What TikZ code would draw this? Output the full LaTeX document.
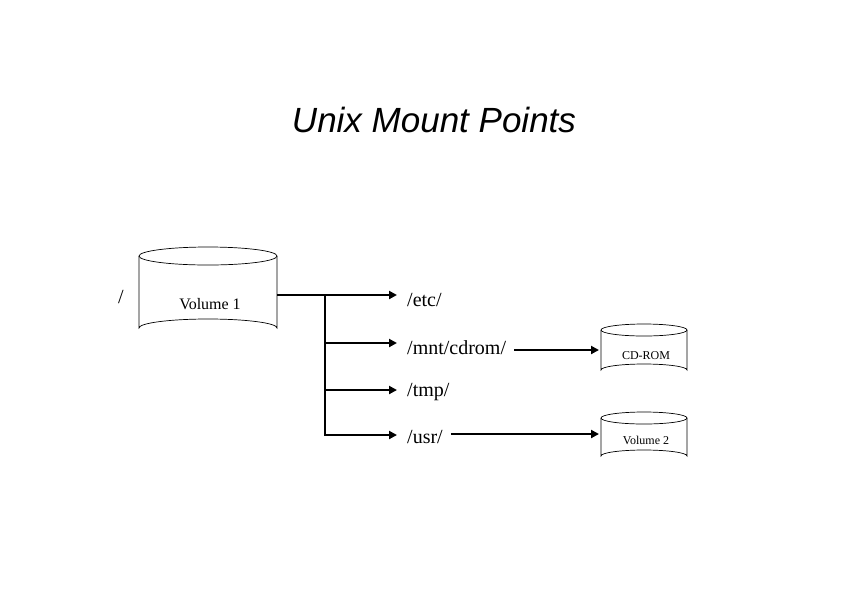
\documentclass[tikz,border=0pt]{standalone}
\usepackage{fontspec}
\setmainfont{Liberation Serif}
\newfontfamily\arial{Liberation Sans}
\usetikzlibrary{arrows.meta}
\begin{document}
\begin{tikzpicture}[x=1pt,y=-1pt,
  conn/.style={line width=2.5pt},
  arr/.style={line width=2.5pt,-{Triangle[length=8pt,width=8pt]}},
  lbl/.style={anchor=west,inner sep=0pt,font=\fontsize{20}{24}\selectfont},
  cyl/.style={fill=white,draw=black,line width=0.7pt}]
\useasboundingbox (0,0) rectangle (842,595);
\newcommand\cylinder[5]{% x1 x2 ytop ybot ry
  \draw[cyl] (#1,#3) -- (#1,#4) arc[start angle=180,end angle=360,x radius={(#2-#1)/2},y radius=#5] -- (#2,#3);
  \draw[cyl] ({(#1+#2)/2},#3) ellipse[x radius={(#2-#1)/2},y radius=#5];}
\node[font=\arial\itshape\fontsize{35}{40}\selectfont] (title) at (434,120) {Unix Mount Points};
\cylinder{139}{277}{256}{328}{9}
\node[font=\fontsize{16}{19}\selectfont] (v1) at (210,304) {Volume 1};
\node[font=\fontsize{20}{24}\selectfont] (root) at (121,297) {/};
\cylinder{601}{687}{330}{370}{6}
\node[font=\fontsize{12}{14}\selectfont] (cd) at (646,356) {CD-ROM};
\cylinder{601}{687}{418}{456}{6}
\node[font=\fontsize{12}{14}\selectfont] (v2) at (646,440) {Volume 2};
\node[lbl] (etc) at (407,300) {/etc/};
\node[lbl] (mnt) at (407,348) {/mnt/cdrom/};
\node[lbl] (tmp) at (407,392) {/tmp/};
\node[lbl] (usr) at (407,437) {/usr/};
\coordinate (j) at (325,295);
\coordinate (jb) at (325,435);
\draw[conn] (277,295) -- (j);
\draw[conn] (325,294) -- (325,436.2);
\draw[arr] (j) -- (397,295);
\draw[arr] (325,343) -- (397,343);
\draw[arr] (325,390) -- (397,390);
\draw[arr] (324,435) -- (397,435);
\draw[arr] (mnt.east) ++(8,2) -- (599,350);
\draw[arr] (usr.east) ++(8,-3) -- (599,434);
\end{tikzpicture}
\end{document}
